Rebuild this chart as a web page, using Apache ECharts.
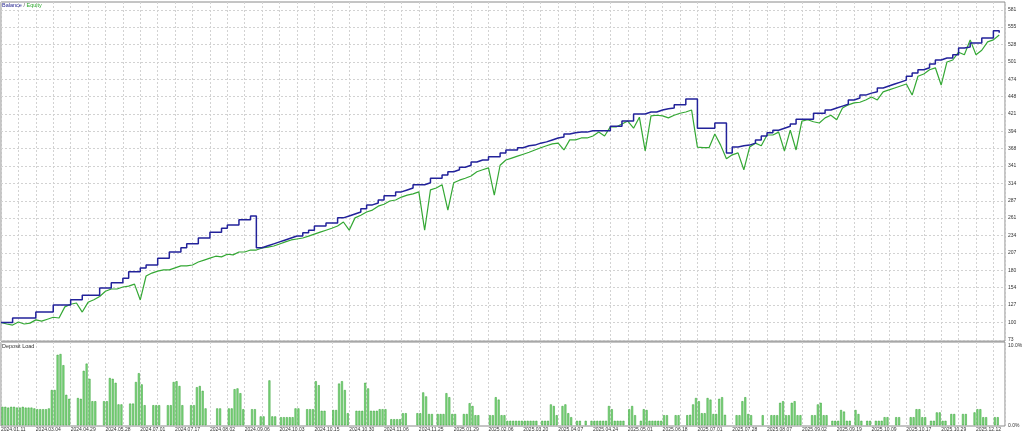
<!DOCTYPE html>
<html><head><meta charset="utf-8">
<script src="https://cdn.jsdelivr.net/npm/echarts@6/dist/echarts.min.js"></script>
<style>html,body{margin:0;padding:0;background:#fff}#c{width:1024px;height:433px}</style>
</head><body><div id="c"></div>
<script>
const xLabels = ['2024.01.11','2024.03.04','2024.04.29','2024.05.28','2024.07.01','2024.07.17','2024.08.02','2024.09.06','2024.10.03','2024.10.15','2024.10.30','2024.11.06','2024.11.25','2025.01.29','2025.02.06','2025.03.20','2025.04.07','2025.04.24','2025.05.01','2025.06.18','2025.07.01','2025.07.28','2025.08.07','2025.09.02','2025.09.19','2025.10.09','2025.10.17','2025.10.29','2025.12.12'];
const yTicks = [73,100,127,154,180,207,234,261,287,314,341,368,394,421,448,474,501,528,555,581];
const loadTicks = [0, 10];
const loadTickLabels = ['0.0%', '10.0%'];

const balance = [
100,100,107,107,107,107,116,116,116,127,
127,127,135,135,142,142,142,153,153,161,
161,168,178,178,184,188.5,188.5,199,199,208.5,
208.5,215,221,221,230,230,239,239,245,250,
250,258,258,264,215,218,221,224,227,230,
233,233,238,242,248.5,248.5,253,253,261,264,
267,270,275,281,284,288.5,295,295,301,304,
307,312,312,315,322,322,327,332,335,339,
342,347,350,350,355,355,361,365.5,365.5,369,
372,373,376,378,381,384,385.5,390,392,393,
393,395,395,395,395,402,402,410,410,421,
421,424,424,427,429,430,435,435,444,444,
399,399,399,407,407,361,370,372,373,376,
381,387,392,396,399,402,405.5,413,413,413,
422,422,427,430,433,436,442.5,445.5,450,453,
455,461,464,467,470,473,479,484,489,492,
498,504,507,507,512,522.5,524,530,530,538,
538,549,546];

const equity = [
100,97.6,96,100.7,97.6,99,104,102,105,108,
106.9,124,128,130,116,131,135,140,148,151.5,
151.5,154.6,156,159,134.6,171.5,176,179,181,181,
184,187,187,188.5,193,196,199,202,201,205,
204,208.5,208.5,211.5,211.5,214.6,216,217.7,220.8,224,
227,228.5,230,233,236,239,242,245,248.5,254.6,
242,261,265,270,273,279,282,287,288.5,293,
296,298,301,242,304,307,312,273,315,319,
322,325.5,332,335,338,296,342,350,353,356,
359,362,365.5,369,372,375,376,365.5,381,381,
384,384,387,393,387,401,401,405.5,410,399,
416,364,418,419,418,415,419,422,424,427,
370,369,369,390,373,352,358,361,335,370,
376,372,388.6,388.6,393,364,396,365.5,410,412,
409,407,415,419,412,430,435,438,439,442.5,
447,442.5,455,458,461,464,467,450,479,482.5,
489,492,465.5,501,504,516,512,535,512,519,
532,535,542.5];

const depositLoad = [
2.3,2.3,2.2,2.3,2.3,2.2,2.2,2.3,2.2,2.2,2.2,2.1,2.0,2.0,2.0,2.0,2.1,
4.4,4.4,8.8,8.9,7.5,3.8,3.3,
0,0,
3.4,3.3,6.8,7.7,5.8,3.0,3.0,
0,0,
3.0,3.0,5.9,5.8,5.3,2.6,2.6,
0,0,
2.7,2.7,5.4,6.5,5.1,2.5,
0,0,
2.5,2.5,2.5,
0,0,
2.5,2.5,5.4,5.5,4.9,2.5,
0,0,
2.5,2.5,4.75,4.9,4.3,2.1,
0,0,0,
2.1,2.1,
0,0,
2.1,2.1,4.5,4.6,4.0,2.0,
0,0,
2.0,2.0,0,
1.1,1.1,0,5.6,1.1,1.1,0,
1.0,1.0,1.0,1.0,1.0,2.1,2.1,
0,0,2.0,2.0,2.0,5.5,5.0,1.8,1.8,
0,0,1.9,1.9,5.2,5.5,4.4,1.5,
0,0,1.8,1.8,1.8,5.3,4.6,1.8,1.8,1.8,2.0,2.0,2.0,
0,0.75,0.75,0.75,0.75,1.5,1.5,0,0,0,
1.5,1.5,4.1,3.6,1.4,1.4,0,
1.4,1.4,1.4,4.0,3.5,1.4,1.4,0,0,
1.4,1.4,2.75,2.4,1.25,1.25,0,0,0,
1.25,1.25,3.5,3.2,1.25,1.25,
0.55,0.55,0.55,0.55,0.55,0.55,0.55,0.55,0.55,0.55,0.55,
0,0.55,0.55,0.55,2.6,2.4,1.25,
0,2.4,2.6,1.5,1.0,0,0.55,0.55,
0,0.55,0,0.55,0.55,0.55,0.55,0.55,0.55,
2.4,2.0,0.55,0.55,0.55,0.55,0,
2.0,2.4,1.25,0,0.55,2.0,1.9,0.55,
0.55,0.55,0.55,0.55,1.25,1.25,
0,0,1.25,1.25,0,0,1.25,1.3,
2.6,3.4,3.0,1.5,1.5,3.4,3.2,1.4,1.4,3.3,3.5,1.3,
0,0,0,1.25,1.25,3.0,3.5,1.4,1.25,
0,0,0,1.25,0,0,1.25,1.25,1.25,
2.8,3.0,1.25,1.25,2.8,3.0,1.25,1.25,
0,0,0,1.25,1.25,2.6,2.8,1.25,1.25,
0,0.55,0.55,0.55,1.9,1.7,0.55,0.55,
0,1.9,1.4,0.55,0,0.55,0.55,0,0.55,0.55,0.55,
1.0,1.0,0,0,1.0,1.0,0,0,0,
1.0,1.0,2.0,2.0,1.0,1.0,0,
0.55,0.55,1.6,1.6,0.55,0.55,0,
1.4,1.4,0,0,1.4,1.4,0,0,
1.6,2.0,2.0,1.0,1.0,0,0,1.0,1.0,0,0];

const STEP = 2;               // trades per balance/equity point
const N = depositLoad.length; // trades on the x axis
const FONT = '"Liberation Sans", Arial, sans-serif';
const gridLine = {show: true, lineStyle: {color: '#d2d2d2', type: [2, 2], width: 1}};

const chart = echarts.init(document.getElementById('c'), null, {renderer: 'canvas'});
chart.setOption({
  animation: false,
  backgroundColor: '#ffffff',
  title: [
    {text: '{b|Balance} {s|/} {e|Equity}', left: 2, top: 2, padding: 0,
     textStyle: {fontSize: 5.5, fontFamily: FONT, fontWeight: 'normal',
       rich: {b: {color: '#1f1f8c', fontSize: 5.5, fontFamily: FONT},
              s: {color: '#555', fontSize: 5.5, fontFamily: FONT},
              e: {color: '#2ea82e', fontSize: 5.5, fontFamily: FONT}}}},
    {text: 'Deposit Load', left: 2, top: 343, padding: 0,
     textStyle: {fontSize: 5.5, color: '#333', fontWeight: 'normal', fontFamily: FONT}}
  ],
  grid: [
    {left: 1, top: 2, width: 1004, height: 339, show: true, borderColor: '#8a8a8a', borderWidth: 1, outerBoundsMode: 'none', containLabel: false},
    {left: 1, top: 342, width: 1004, height: 84, show: true, borderColor: '#8a8a8a', borderWidth: 1, outerBoundsMode: 'none', containLabel: false}
  ],
  xAxis: [
    {gridIndex: 0, type: 'value', min: 0, max: N, interval: 6,
     axisLine: {show: false}, axisTick: {show: false}, axisLabel: {show: false}, splitLine: gridLine},
    {gridIndex: 1, type: 'value', min: 0, max: N, interval: 6,
     axisLine: {show: false}, axisTick: {show: false}, splitLine: gridLine,
     axisLabel: {fontSize: 5, color: '#333', fontFamily: FONT, align: 'left', margin: 1,
       showMaxLabel: false, showMinLabel: true, hideOverlap: false,
       formatter: function (v) { const k = Math.round(v); return (k % 12 === 0 && xLabels[k / 12]) ? xLabels[k / 12] : ''; }}}
  ],
  yAxis: [
    {gridIndex: 0, type: 'value', position: 'right', min: 71.46, max: 593.3,
     axisLine: {show: false}, axisTick: {show: false, customValues: yTicks}, splitLine: gridLine,
     axisLabel: {customValues: yTicks, fontSize: 5, color: '#333', margin: 3, fontFamily: FONT}},
    {gridIndex: 1, type: 'value', position: 'right', min: -0.1, max: 10.4,
     axisLine: {show: false}, axisTick: {show: false, customValues: loadTicks}, splitLine: {show: false},
     axisLabel: {customValues: loadTicks, fontSize: 5, color: '#333', margin: 3, fontFamily: FONT,
       formatter: function (v) { const i = loadTicks.indexOf(v); return i >= 0 ? loadTickLabels[i] : ''; }}}
  ],
  series: [
    {name: 'Equity', type: 'line', xAxisIndex: 0, yAxisIndex: 0, showSymbol: false, z: 2,
     data: equity.map((v, j) => [j * STEP, v]),
     lineStyle: {color: '#34a834', width: 1.2}},
    {name: 'Balance', type: 'line', xAxisIndex: 0, yAxisIndex: 0, showSymbol: false, z: 3, step: 'end',
     data: balance.map((v, j) => [j * STEP, v]),
     lineStyle: {color: '#22229a', width: 1.5}},
    {name: 'Deposit Load', type: 'bar', xAxisIndex: 1, yAxisIndex: 1, barWidth: 2,
     data: depositLoad.map((v, i) => [i + 0.5, v]).filter(d => d[1] > 0),
     itemStyle: {color: '#84da84', borderColor: '#2f9c2f', borderWidth: 0.5}}
  ]
});
</script>
</body></html>
